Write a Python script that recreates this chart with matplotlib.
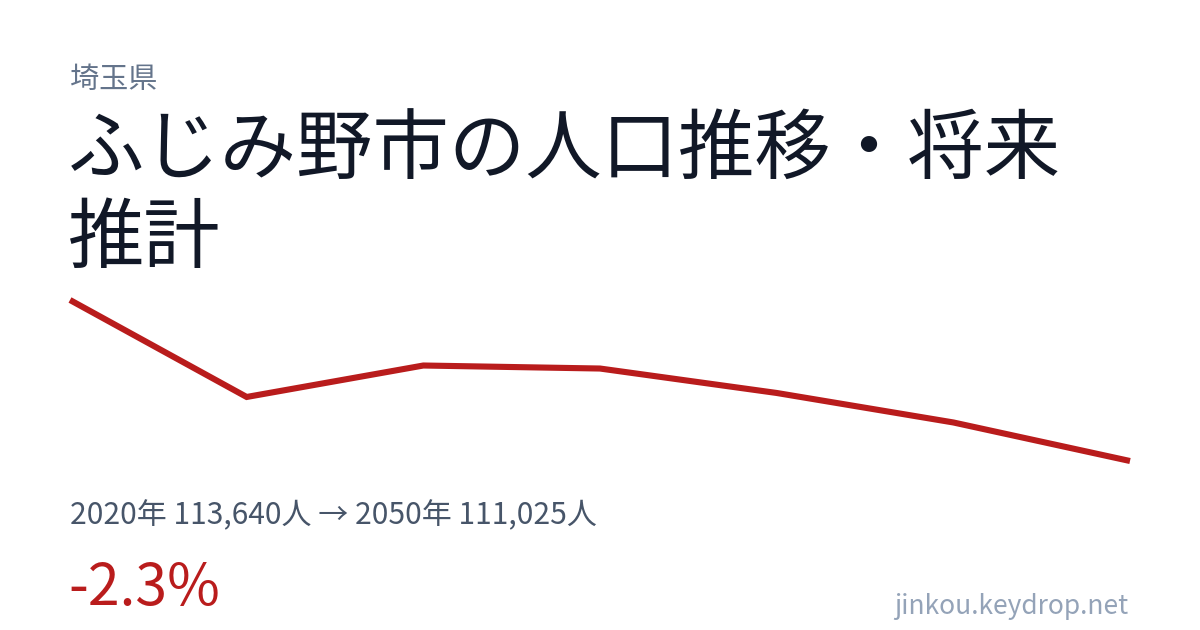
import matplotlib
matplotlib.use("Agg")
import matplotlib.pyplot as plt

# Data
years = [2020, 2025, 2030, 2035, 2040, 2045, 2050]
population = [113640, 112065, 112576, 112527, 112130, 111651, 111025]
prefecture = "埼玉県"
title_lines = ["ふじみ野市の人口推移・将来", "推計"]
stats_text = "2020年 113,640人 → 2050年 111,025人"
change_text = "-2.3%"
site_text = "jinkou.keydrop.net"

W, H = 1200, 630
fig = plt.figure(figsize=(W / 100, H / 100), dpi=100)
fig.patch.set_facecolor("white")
FONTS = ["Noto Sans CJK JP", "DejaVu Sans"]

def px(x, y):
    return x / W, 1 - y / H

# line axes: x 70..1130, y 300..461
ax = fig.add_axes([70 / W, 1 - 461 / H, (1130 - 70) / W, (461 - 300) / H])
ax.plot(years, population, color="#b91c1c", lw=4.4, solid_joinstyle="miter",
        solid_capstyle="butt", clip_on=False)
ax.set_xlim(min(years), max(years))
ax.set_ylim(min(population), max(population))
ax.axis("off")

fig.text(*px(70, 80), prefecture, family=FONTS, fontsize=21, color="#64748b",
         va="center", ha="left")
fig.text(*px(68, 152), title_lines[0], family=FONTS, fontsize=55, color="#111827",
         va="center", ha="left")
fig.text(*px(68, 240), title_lines[1], family=FONTS, fontsize=55, color="#111827",
         va="center", ha="left")
fig.text(*px(70, 516), stats_text, family=FONTS, fontsize=21.6, color="#475569",
         va="center", ha="left")
fig.text(*px(68, 589), change_text, family=FONTS, fontsize=41.2, color="#b91c1c",
         va="center", ha="left")
fig.text(*px(1128, 606), site_text, family=FONTS, fontsize=19, color="#94a3b8",
         va="center", ha="right")

fig.savefig("out.png", dpi=100, facecolor="white")
